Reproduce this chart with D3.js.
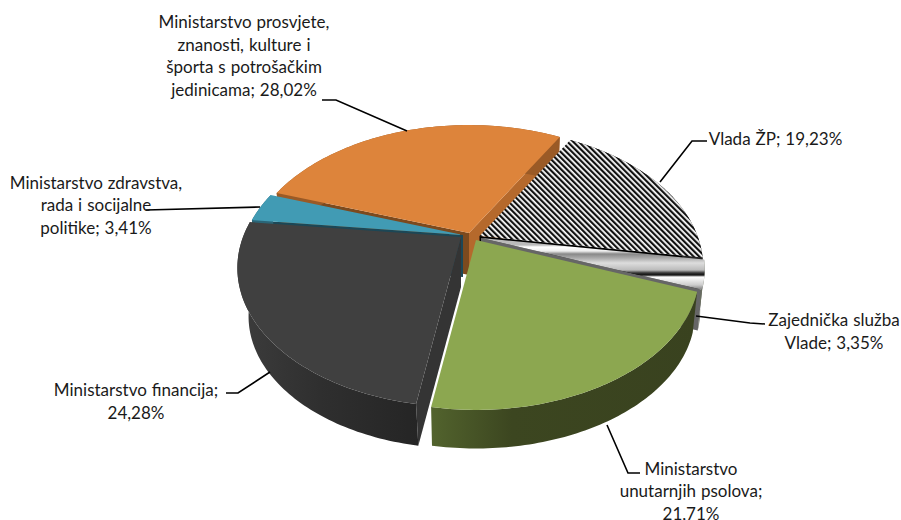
<!DOCTYPE html>
<html><head><meta charset="utf-8">
<script src="https://cdnjs.cloudflare.com/ajax/libs/d3/7.8.5/d3.min.js"></script>
<style>html,body{margin:0;padding:0;background:#fff}svg{display:block}text{font-family:Lato,"Open Sans",sans-serif;font-size:17px;word-spacing:0.6px;fill:#1a1a1a}</style>
</head><body><div id="c"></div>
<script>
const categories = ["Vlada ŽP","Zajednička služba Vlade","Ministarstvo unutarnjih psolova","Ministarstvo financija","Ministarstvo zdravstva, rada i socijalne politike","Ministarstvo prosvjete, znanosti, kulture i športa s potrošačkim jedinicama"];
const shares = [19.23,3.35,21.71,24.28,3.41,28.02];
const labelLines = [
 ["Vlada ŽP; 19,23%"],
 ["Zajednička služba","Vlade; 3,35%"],
 ["Ministarstvo","unutarnjih psolova;","21,71%"],
 ["Ministarstvo financija;","24,28%"],
 ["Ministarstvo zdravstva,","rada i socijalne","politike; 3,41%"],
 ["Ministarstvo prosvjete,","znanosti, kulture i","športa s potrošačkim","jedinicama; 28,02%"]
];

const W=901,H=520;
const svg=d3.select("#c").append("svg").attr("width",W).attr("height",H);
const defs=svg.append("defs");

// perspective disc
const A=218,B=132,P=0.223;
function proj(t,bottom,s){
  const u=Math.sin(t),v=-Math.cos(t),w=1-P*v;
  const x=A*u/w,y=B*v/w;
  return bottom?[x*s.shrink,y*s.shrink+s.depth]:[x,y];
}
const line=d3.line();
const start=29.8*Math.PI/180;
const arcs=d3.pie().sort(null).startAngle(start).endAngle(start+2*Math.PI)(shares);

function grad(id,stops,x1,y1,x2,y2){
  const g=defs.append("linearGradient").attr("id",id).attr("gradientUnits","userSpaceOnUse")
    .attr("x1",x1).attr("y1",y1).attr("x2",x2).attr("y2",y2);
  stops.forEach(s=>g.append("stop").attr("offset",s[0]).attr("stop-color",s[1]));
}
grad("wGreen",[[0,"#52632d"],[0.3,"#3c4620"],[1,"#39421f"]],431,0,700,0);
grad("wDark",[[0,"#3c3c3c"],[0.45,"#2f2f2f"],[1,"#252525"]],240,0,418,0);
const yy=v=>(v-240)/55;
grad("fStrip",[[yy(245),"#bbb"],[yy(247),"#fff"],[yy(251),"#eee"],[yy(254),"#888"],[yy(258),"#aaa"],[yy(263),"#ddd"],[yy(270),"#bbb"],[yy(273),"#333"],[yy(275),"#111"],[yy(277),"#fff"],[yy(285),"#ccc"],[yy(290),"#777"]],0,240,0,295);
const pat=defs.append("pattern").attr("id","hatch").attr("patternUnits","userSpaceOnUse")
  .attr("width",4).attr("height",4).attr("patternTransform","rotate(-45)");
pat.append("rect").attr("width",4).attr("height",4).attr("fill","#fff");
pat.append("rect").attr("width",2.2).attr("height",4).attr("fill","#111");

const styles=[
 {c:[479.5,236],shrink:0.98,depth:42,top:"url(#hatch)",outer:"#222",end:"#000"},
 {c:[481,238],shrink:0.98,depth:42,top:"url(#fStrip)",outer:"#6a6f60",end:"#666"},
 {c:[476,240],shrink:0.98,depth:42,top:"#8ca750",outer:"url(#wGreen)"},
 {c:[461,237],shrink:0.95,depth:50,top:"#404040",outer:"url(#wDark)",start:"#343434"},
 {c:[463,235],shrink:0.98,depth:42,top:"#419bb4",outer:"#2a6577",start:"#1c4756"},
 {c:[469,233],shrink:0.98,depth:42,top:"#dd843b",outer:"#9a5a26",start:"#7c4a1e",end:"#b5692c"}
];
const order=[5,4,3,0,1,2];
const N=80;
order.forEach(i=>{
  const a=arcs[i],s=styles[i];
  const ts=d3.range(N+1).map(k=>a.startAngle+(a.endAngle-a.startAngle)*k/N);
  const topRim=ts.map(t=>proj(t,false,s)), botRim=ts.map(t=>proj(t,true,s));
  const O=[0,0],OB=[0,s.depth];
  const page=pts=>line(pts.map(p=>[p[0]+s.c[0],p[1]+s.c[1]]))+"Z";
  if(s.start) svg.append("path").attr("d",page([O,topRim[0],botRim[0],OB])).attr("fill",s.start);
  if(s.end) svg.append("path").attr("d",page([O,topRim[N],botRim[N],OB])).attr("fill",s.end);
  svg.append("path").attr("d",page(topRim.concat(botRim.slice().reverse()))).attr("fill",s.outer);
  svg.append("path").attr("d",page([O].concat(topRim))).attr("fill",s.top);
});

// leaders
const leaders=[
 [[707,141],[692,141],[660,182]],
 [[765,324],[750,323],[696,316]],
 [[640,473],[628,473],[607,425]],
 [[226,393],[238,393],[270,372]],
 [[146,210],[260,207]],
 [[322,100],[336,100],[407,131]]
];
leaders.forEach(l=>svg.append("path").attr("d",line(l)).attr("fill","none").attr("stroke","#000").attr("stroke-width",1.6));

// labels
const labelPos=[[775.5,145],[834,326],[691,474.5],[136,396],[96,188.5],[244,28]];
const lh=22.5;
labelLines.forEach((ls,i)=>{
  const t=svg.append("text").attr("text-anchor","middle");
  ls.forEach((s,k)=>t.append("tspan").attr("x",labelPos[i][0]).attr("y",labelPos[i][1]+k*lh).text(s));
});
</script></body></html>
